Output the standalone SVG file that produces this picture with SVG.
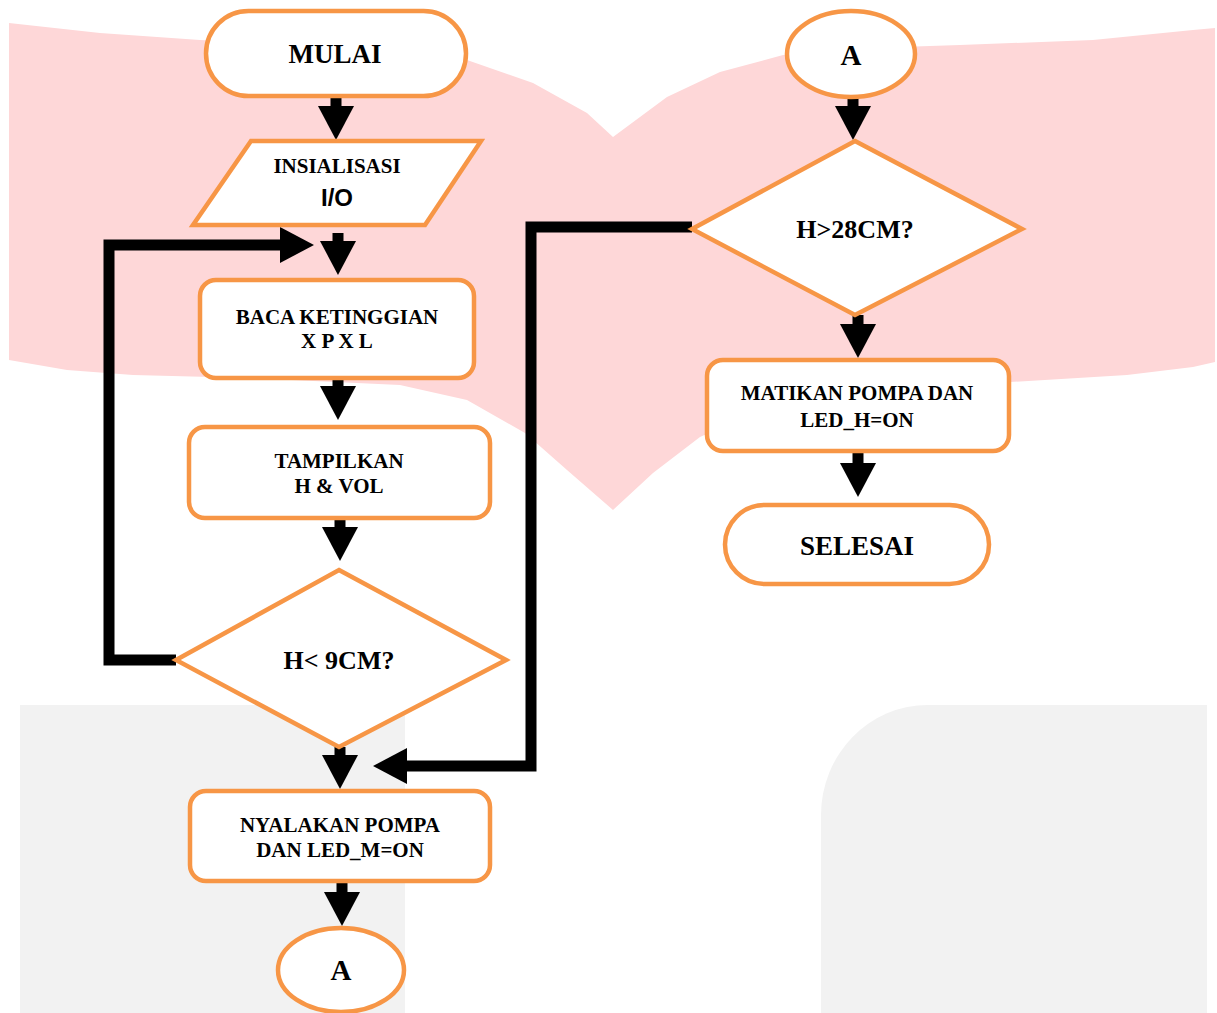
<svg xmlns="http://www.w3.org/2000/svg" width="1217" height="1013" viewBox="0 0 1217 1013">
<defs>
<style>
.n{fill:#fff;stroke:#F79646;stroke-width:4.5}
.t{font-family:"Liberation Serif","Times New Roman",serif;font-weight:bold;fill:#000;text-anchor:middle}
.s{font-size:21px}
.b{font-size:26px}
.c{fill:none;stroke:#000;stroke-width:11;stroke-linejoin:miter;stroke-linecap:butt}
</style>
<marker id="ah" markerUnits="userSpaceOnUse" viewBox="0 -18 34 36" refX="0" refY="0" markerWidth="34" markerHeight="36" orient="auto" overflow="visible">
<path d="M0,-18 L34,0 L0,18 Z" fill="#000"/>
</marker>
</defs>
<rect width="1217" height="1013" fill="#fff"/>
<g id="background">
<path fill="#FED7D8" d="M9,23 L100,33 L200,40 L300,45 L400,50 L467,60 L533,83 L587,113 L613,137 L667,97 L720,72 L783,55 L870,48 L960,45 L1093,40 L1193,30 L1215,28 L1215,362 L1193,367 L1127,375 L1010,382 L850,392 L760,410 L700,437 L653,473 L613,510 L567,470 L525,433 L467,400 L400,385 L250,378 L133,375 L67,370 L9,360 Z"/>
<rect x="20" y="705" width="385" height="308" fill="#F2F2F2"/>
<path fill="#F2F2F2" d="M821,1013 L821,815 A107,110 0 0 1 928,705 L1207,705 L1207,1013 Z"/>
</g>
<g id="connectors">
<path class="c" d="M336,97 L336,106" marker-end="url(#ah)"/>
<path class="c" d="M338,233 L338,241" marker-end="url(#ah)"/>
<path class="c" d="M338,378 L338,386" marker-end="url(#ah)"/>
<path class="c" d="M340,519 L340,527" marker-end="url(#ah)"/>
<path class="c" d="M340,747 L340,755" marker-end="url(#ah)"/>
<path class="c" d="M342,883 L342,892" marker-end="url(#ah)"/>
<path class="c" d="M853,98 L853,106" marker-end="url(#ah)"/>
<path class="c" d="M858,315 L858,324" marker-end="url(#ah)"/>
<path class="c" d="M858,452 L858,463" marker-end="url(#ah)"/>
<path class="c" d="M176,660 L109,660 L109,245 L280,245" marker-end="url(#ah)"/>
<path class="c" d="M692,227 L531,227 L531,766 L407,766" marker-end="url(#ah)"/>
</g>
<g id="mulai">
<rect class="n" x="206" y="11" width="260" height="85" rx="42.5"/>
<text class="t" x="335" y="63" font-size="27">MULAI</text>
</g>
<g id="inisialisasi">
<polygon class="n" points="251,141 481,141 425,225 193,225"/>
<text class="t s" x="337" y="173">INSIALISASI</text>
<text x="337" y="206" font-family="'Liberation Sans',Arial,sans-serif" font-weight="bold" font-size="24" text-anchor="middle">I/O</text>
</g>
<g id="baca">
<rect class="n" x="200" y="280" width="274" height="98" rx="16"/>
<text class="t s" x="337" y="324">BACA KETINGGIAN</text>
<text class="t s" x="337" y="348">X P X L</text>
</g>
<g id="tampilkan">
<rect class="n" x="189" y="427" width="301" height="91" rx="16"/>
<text class="t s" x="339" y="468">TAMPILKAN</text>
<text class="t s" x="339" y="493">H &amp; VOL</text>
</g>
<g id="cek9">
<polygon class="n" points="339,570 506,660 339,747 176,660"/>
<text class="t b" x="339" y="669">H&lt; 9CM?</text>
</g>
<g id="nyalakan">
<rect class="n" x="190" y="791" width="300" height="90" rx="16"/>
<text class="t s" x="340" y="832">NYALAKAN POMPA</text>
<text class="t s" x="340" y="857">DAN LED_M=ON</text>
</g>
<g id="a1">
<ellipse class="n" cx="341" cy="970" rx="63" ry="42"/>
<text class="t" x="341" y="980" font-size="29">A</text>
</g>
<g id="a2">
<ellipse class="n" cx="851" cy="54" rx="64" ry="43"/>
<text class="t" x="851" y="65" font-size="29">A</text>
</g>
<g id="cek28">
<polygon class="n" points="855,141 1022,229 855,315 692,229"/>
<text class="t b" x="855" y="238">H&gt;28CM?</text>
</g>
<g id="matikan">
<rect class="n" x="707" y="360" width="302" height="91" rx="16"/>
<text class="t s" x="857" y="400">MATIKAN POMPA DAN</text>
<text class="t s" x="857" y="427">LED_H=ON</text>
</g>
<g id="selesai">
<rect class="n" x="725" y="505" width="264" height="79" rx="39.5"/>
<text class="t" x="857" y="555" font-size="27">SELESAI</text>
</g>
</svg>
